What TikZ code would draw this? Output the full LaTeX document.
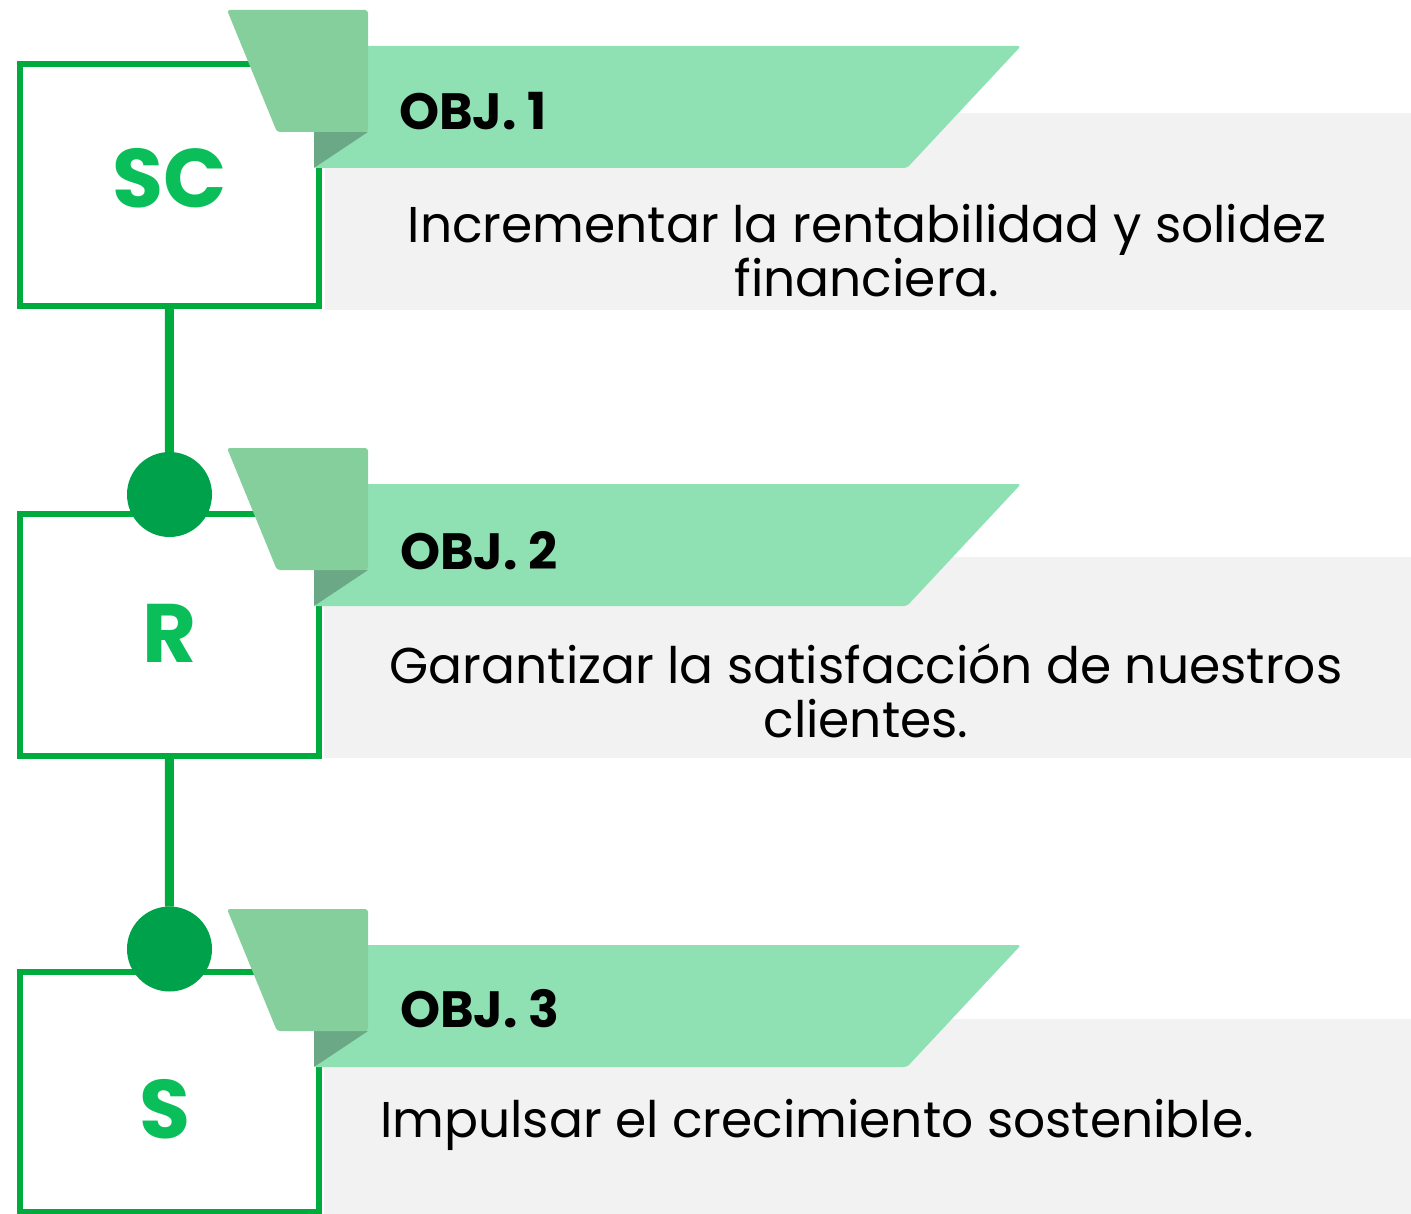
\documentclass[tikz,border=0pt]{standalone}
\usepackage{fontspec}
\setmainfont{Poppins}
\usepackage{tikz}

\definecolor{boxgreen}{HTML}{00AB3E}
\definecolor{dotgreen}{HTML}{00A14B}
\definecolor{lettergreen}{HTML}{0ABF5A}
\definecolor{ribbongreen}{HTML}{8FE1B4}
\definecolor{flaggreen}{HTML}{84CF9C}
\definecolor{foldgreen}{HTML}{6BA886}
\definecolor{panelgrey}{HTML}{F2F2F2}

\begin{document}
\begin{tikzpicture}[x=1pt, y=-1pt,
            every node/.style = {inner sep=0pt, outer sep=0pt},
            letterbox/.style = {draw=boxgreen, line width=6pt, fill=white,
                                minimum width=298.5pt, minimum height=242pt},
            letter/.style = {anchor=base, text=lettergreen,
                             font=\fontsize{83}{83}\selectfont\bfseries},
            dot/.style = {circle, fill=dotgreen, minimum size=85pt},
            connector/.style = {draw=boxgreen, line width=9pt},
            panel/.style = {fill=panelgrey},
            ribbon/.style = {fill=ribbongreen},
            fold/.style = {fill=foldgreen},
            flag/.style = {fill=flaggreen, rounded corners=3pt},
            objtitle/.style = {anchor=base west,
                               font=\fontsize{51}{51}\selectfont\bfseries},
            objtext/.style = {anchor=base, align=center,
                              font=\fontsize{50.3}{54}\selectfont}]
    \useasboundingbox (0,0) rectangle (1411,1214);

    % cajas con las letras
    \node[letterbox] (boxSC) at (169.25,185) {};
    \node[letterbox] (boxR) at (169.25,635) {};
    \node[letterbox, minimum height=240pt] (boxS) at (169.25,1092) {};
    \node[letter] (txtSC) at (169.5,208) {SC};
    \node[letter] (txtR) at (170,662) {R};
    \node[letter] (txtS) at (165,1138) {S};

    % uniones y puntos
    \node[dot] (dotR) at (169.5,494.5) {};
    \node[dot] (dotS) at (169.5,949) {};
    \draw[connector] (boxSC.south) -- (dotR.north);
    \draw[connector] (boxR.south) -- (dotS.north);

    % paneles grises
    \fill[panel] (325,113) rectangle (1411,310);
    \fill[panel] (324,557) rectangle (1411,758);
    \fill[panel] (324,1019) rectangle (1411,1214);

    % cintas de los objetivos
    \foreach \dy in {0,438,899} {
        \fill[ribbon] (314,46+\dy) [rounded corners=3pt] -- (1021,46+\dy)
              -- (907,168+\dy) -- (314,168+\dy) [sharp corners] -- cycle;
        \fill[fold] (314,132+\dy) -- (368,132+\dy) -- (314,168+\dy) -- cycle;
        \fill[flag] (227,10+\dy) -- (368,10+\dy) -- (368,132+\dy) -- (277,132+\dy) -- cycle;
    }

    % textos
    \node[objtitle] (obj1) at (399,130) {OBJ. 1};
    \node[objtitle] (obj2) at (400,569) {OBJ. 2};
    \node[objtitle] (obj3) at (400,1027) {OBJ. 3};
    \node[objtext] (desc1) at (867,297) {Incrementar la rentabilidad y solidez\\financiera.};
    \node[objtext] (desc2) at (866,737) {Garantizar la satisfacción de nuestros\\clientes.};
    \node[objtext] (desc3) at (817,1137) {Impulsar el crecimiento sostenible.};
\end{tikzpicture}
\end{document}
